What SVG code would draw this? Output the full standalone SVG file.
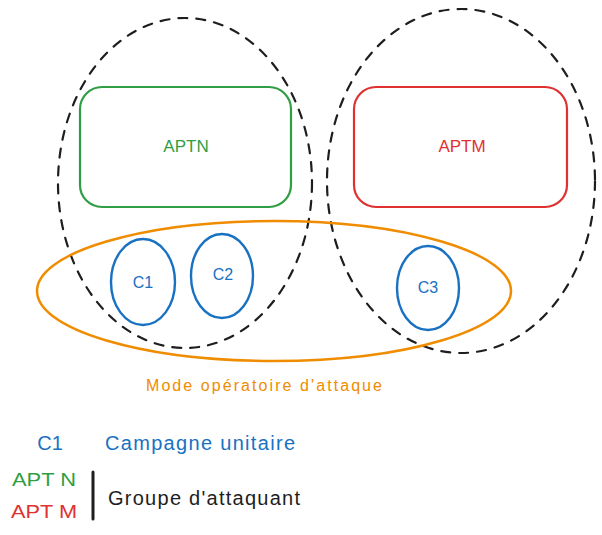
<svg xmlns="http://www.w3.org/2000/svg" width="602" height="535" viewBox="0 0 602 535">
<style>
.dash{fill:none;stroke:#1e1e1e;stroke-width:2.2;stroke-dasharray:9 9;stroke-linecap:round}
.t{font-family:"Liberation Sans",Arial,sans-serif;text-anchor:middle;dominant-baseline:central}
.blue{fill:none;stroke:#1971c2;stroke-width:2.4}
</style>
<rect width="602" height="535" fill="#ffffff"/>
<g id="groupN"><ellipse class="dash" cx="185" cy="183" rx="127" ry="165"/></g>
<g id="groupM"><ellipse class="dash" cx="461" cy="181" rx="134" ry="172"/></g>
<g id="aptn"><rect x="80" y="87" width="211" height="120" rx="22" fill="none" stroke="#2f9e44" stroke-width="2.2"/><text class="t" x="186" y="146" font-size="17" fill="#2f9e44">APTN</text></g>
<g id="aptm"><rect x="354" y="87" width="213" height="120" rx="22" fill="none" stroke="#e03131" stroke-width="2.2"/><text class="t" x="462" y="146" font-size="17" fill="#e03131">APTM</text></g>
<g id="mode"><ellipse cx="274" cy="291" rx="237" ry="70" fill="none" stroke="#f08c00" stroke-width="2.5"/><text class="t" x="264" y="385" font-size="16" fill="#f08c00" textLength="236">Mode opératoire d'attaque</text></g>
<g id="c1"><ellipse class="blue" cx="143" cy="282" rx="32" ry="43"/><text class="t" x="143" y="282" font-size="16" fill="#1971c2">C1</text></g>
<g id="c2"><ellipse class="blue" cx="222" cy="276" rx="31" ry="42"/><text class="t" x="223" y="274" font-size="16" fill="#1971c2">C2</text></g>
<g id="c3"><ellipse class="blue" cx="428" cy="288" rx="31" ry="42"/><text class="t" x="428" y="287" font-size="16" fill="#1971c2">C3</text></g>
<g id="connectors"></g>
<g id="legend">
<text class="t" x="50" y="443" font-size="20" fill="#1971c2">C1</text>
<text class="t" x="200" y="443" font-size="20" fill="#1971c2" textLength="190">Campagne unitaire</text>
<text class="t" x="44" y="480" font-size="18" fill="#2f9e44" textLength="64" lengthAdjust="spacingAndGlyphs">APT N</text>
<text class="t" x="44" y="512" font-size="18" fill="#e03131" textLength="66" lengthAdjust="spacingAndGlyphs">APT M</text>
<line x1="93" y1="472" x2="93" y2="519" stroke="#1e1e1e" stroke-width="3" stroke-linecap="round"/>
<text class="t" x="204" y="498" font-size="20" fill="#1e1e1e" textLength="192">Groupe d'attaquant</text>
</g>
</svg>
